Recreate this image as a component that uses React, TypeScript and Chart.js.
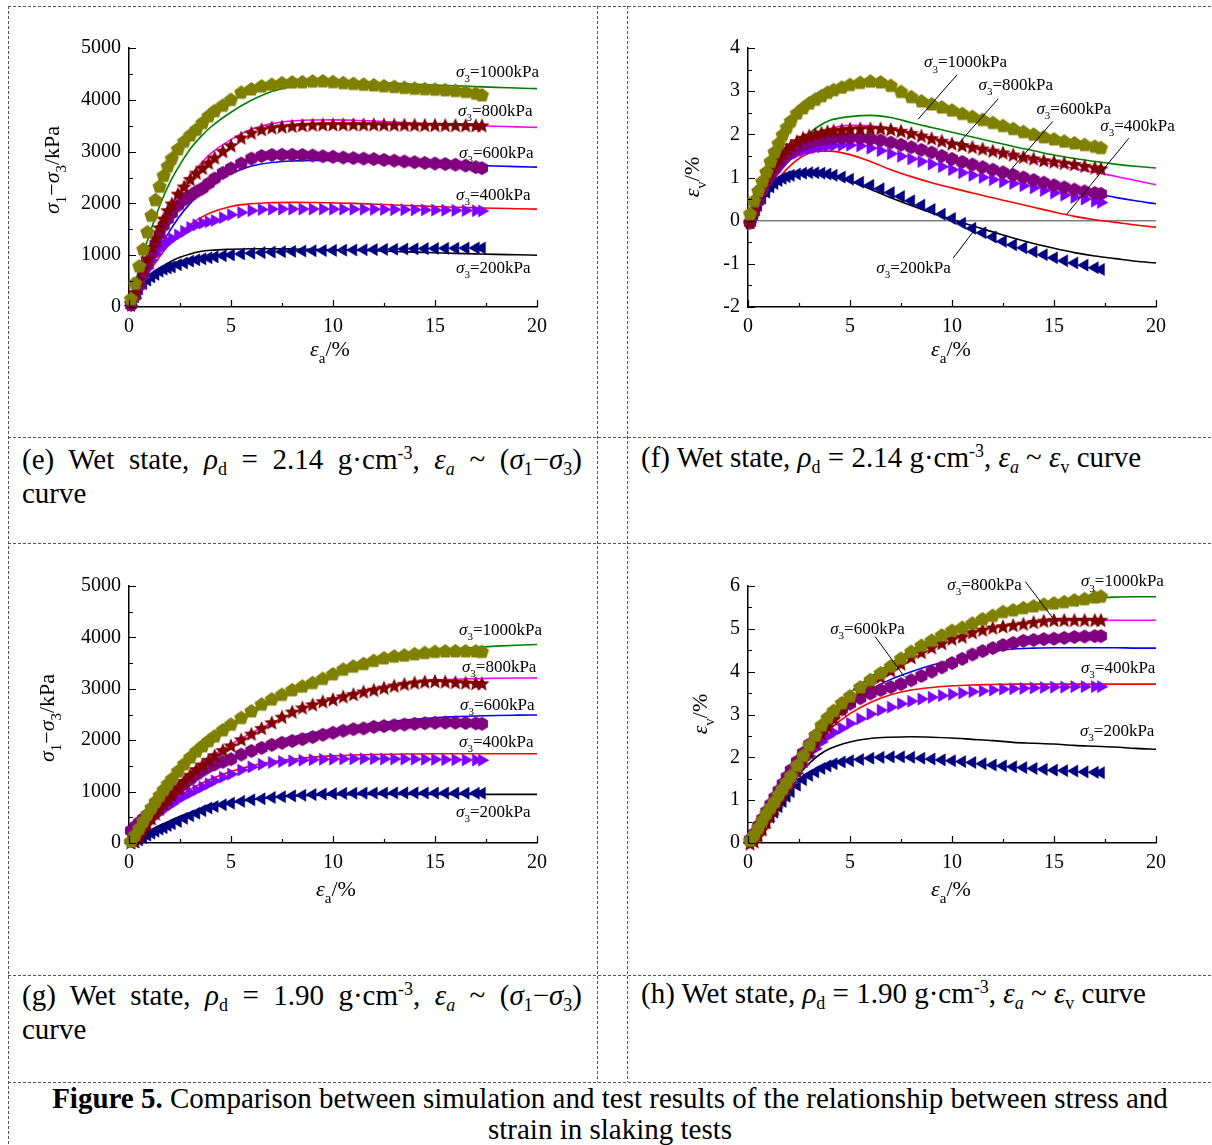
import React, { useEffect, useRef } from 'react';
import { Chart, registerables } from 'chart.js';

Chart.register(...registerables);

const SERIF = '"Liberation Serif", "Times New Roman", Times, serif';

// ---------- data ----------
const PRESSURES = [1000, 800, 600, 400, 200];

const TEST_X = [0.1, 0.3, 0.5, 0.7, 0.9, 1.1, 1.3, 1.5, 1.7, 1.9,
  2.1, 2.4, 2.7, 3.0, 3.3, 3.6, 3.9, 4.2, 4.6,
  5.0, 5.5, 6.0, 6.5, 7.0, 7.5, 8.0, 8.5, 9.0, 9.5,
  10, 10.5, 11, 11.5, 12, 12.5, 13, 13.5, 14, 14.5,
  15, 15.5, 16, 16.5, 17, 17.3];

const SIM_X = [0, 0.5, 1, 1.5, 2, 2.5, 3, 3.5, 4, 5, 6, 7, 8, 9, 10, 11, 12, 13, 14, 15, 16, 17, 18, 19, 20];

// (e) wet, 2.14, deviator stress
const E_TEST_1000 = [150, 450, 780, 1110, 1440, 1760, 2060, 2320, 2530, 2710, 2860, 3040, 3190, 3310, 3420, 3550, 3680, 3780, 3885, 3995, 4135, 4200, 4255, 4288, 4318, 4332, 4336, 4350, 4355, 4340, 4320, 4305, 4290, 4278, 4260, 4245, 4228, 4213, 4203, 4194, 4182, 4168, 4150, 4118, 4085];
const E_TEST_800 = [60, 270, 510, 730, 920, 1140, 1320, 1520, 1690, 1850, 1980, 2170, 2310, 2455, 2575, 2670, 2770, 2870, 2995, 3105, 3255, 3350, 3415, 3450, 3468, 3482, 3495, 3505, 3510, 3512, 3512, 3512, 3510, 3510, 3508, 3506, 3504, 3502, 3500, 3500, 3498, 3496, 3494, 3492, 3490];
const E_TEST_600 = [40, 220, 430, 630, 840, 1030, 1220, 1400, 1570, 1700, 1810, 1960, 2070, 2150, 2225, 2290, 2385, 2480, 2590, 2675, 2770, 2865, 2915, 2935, 2938, 2938, 2935, 2925, 2910, 2900, 2885, 2875, 2865, 2855, 2840, 2825, 2810, 2795, 2782, 2770, 2760, 2748, 2730, 2700, 2680];
const E_TEST_400 = [30, 170, 360, 570, 750, 900, 1020, 1120, 1200, 1260, 1320, 1390, 1460, 1535, 1585, 1620, 1645, 1670, 1725, 1780, 1825, 1860, 1882, 1888, 1890, 1890, 1890, 1890, 1890, 1889, 1888, 1887, 1886, 1885, 1883, 1881, 1879, 1876, 1873, 1870, 1868, 1865, 1862, 1858, 1855];
const E_TEST_200 = [30, 200, 350, 450, 520, 580, 630, 690, 730, 755, 775, 815, 850, 885, 910, 930, 950, 968, 990, 1005, 1025, 1038, 1050, 1060, 1068, 1075, 1080, 1085, 1090, 1093, 1097, 1100, 1104, 1108, 1112, 1116, 1120, 1123, 1126, 1129, 1132, 1135, 1137, 1139, 1140];
const E_SIM_1000 = [0, 750, 1400, 1950, 2400, 2750, 3050, 3280, 3470, 3760, 3990, 4160, 4255, 4300, 4330, 4340, 4335, 4320, 4300, 4285, 4270, 4255, 4240, 4228, 4215];
const E_SIM_800 = [0, 550, 1090, 1540, 1920, 2250, 2530, 2760, 2960, 3230, 3430, 3540, 3590, 3610, 3612, 3605, 3590, 3570, 3550, 3530, 3515, 3500, 3490, 3478, 3468];
const E_SIM_600 = [0, 420, 800, 1150, 1470, 1760, 2000, 2190, 2350, 2570, 2720, 2790, 2820, 2830, 2830, 2822, 2810, 2795, 2780, 2765, 2750, 2735, 2722, 2710, 2700];
const E_SIM_400 = [0, 350, 680, 970, 1220, 1420, 1590, 1720, 1820, 1940, 1995, 2015, 2020, 2018, 2010, 2000, 1985, 1970, 1955, 1940, 1925, 1915, 1905, 1898, 1890];
const E_SIM_200 = [0, 320, 560, 740, 870, 960, 1025, 1070, 1095, 1115, 1125, 1125, 1120, 1112, 1105, 1095, 1085, 1072, 1060, 1048, 1036, 1025, 1015, 1008, 1000];

// (f) wet, 2.14, volumetric strain
const F_TEST_1000 = [0.15, 0.45, 0.68, 0.9, 1.12, 1.36, 1.58, 1.78, 1.98, 2.15, 2.3, 2.48, 2.6, 2.71, 2.8, 2.88, 2.96, 3.02, 3.08, 3.14, 3.19, 3.22, 3.2, 3.12, 2.98, 2.86, 2.76, 2.69, 2.62, 2.55, 2.47, 2.4, 2.33, 2.26, 2.19, 2.12, 2.05, 1.99, 1.93, 1.88, 1.83, 1.79, 1.75, 1.71, 1.68];
const F_TEST_800 = [-0.05, 0.2, 0.5, 0.75, 0.95, 1.12, 1.28, 1.42, 1.54, 1.64, 1.72, 1.82, 1.9, 1.95, 1.99, 2.02, 2.05, 2.07, 2.09, 2.11, 2.12, 2.12, 2.12, 2.1, 2.06, 2.01, 1.95, 1.89, 1.83, 1.77, 1.73, 1.69, 1.65, 1.6, 1.56, 1.51, 1.46, 1.42, 1.38, 1.35, 1.32, 1.29, 1.25, 1.21, 1.19];
const F_TEST_600 = [-0.05, 0.2, 0.45, 0.7, 0.9, 1.06, 1.2, 1.33, 1.44, 1.53, 1.6, 1.69, 1.76, 1.81, 1.85, 1.88, 1.9, 1.91, 1.92, 1.92, 1.91, 1.89, 1.86, 1.81, 1.76, 1.7, 1.64, 1.58, 1.5, 1.43, 1.36, 1.3, 1.24, 1.18, 1.12, 1.06, 1.0, 0.94, 0.88, 0.82, 0.77, 0.72, 0.68, 0.64, 0.62];
const F_TEST_400 = [-0.05, 0.25, 0.5, 0.72, 0.92, 1.08, 1.2, 1.3, 1.38, 1.45, 1.5, 1.57, 1.62, 1.66, 1.69, 1.71, 1.73, 1.74, 1.75, 1.75, 1.73, 1.68, 1.62, 1.55, 1.49, 1.43, 1.37, 1.31, 1.25, 1.18, 1.11, 1.05, 1.0, 0.95, 0.9, 0.86, 0.81, 0.76, 0.7, 0.64, 0.59, 0.54, 0.5, 0.45, 0.42];
const F_TEST_200 = [-0.05, 0.15, 0.35, 0.52, 0.66, 0.78, 0.86, 0.93, 0.98, 1.02, 1.05, 1.08, 1.1, 1.11, 1.11, 1.1, 1.08, 1.05, 1.01, 0.96, 0.89, 0.82, 0.74, 0.65, 0.56, 0.46, 0.36, 0.26, 0.15, 0.05, -0.06, -0.18, -0.28, -0.38, -0.48, -0.56, -0.63, -0.72, -0.79, -0.86, -0.93, -0.98, -1.03, -1.09, -1.13];
const F_SIM_1000 = [0, 0.45, 0.85, 1.2, 1.5, 1.76, 2.02, 2.2, 2.32, 2.41, 2.44, 2.39, 2.27, 2.16, 2.05, 1.94, 1.83, 1.72, 1.62, 1.52, 1.44, 1.37, 1.31, 1.26, 1.22];
const F_SIM_800 = [0, 0.4, 0.78, 1.12, 1.42, 1.68, 1.88, 2.03, 2.13, 2.21, 2.2, 2.12, 2.02, 1.92, 1.8, 1.68, 1.58, 1.48, 1.39, 1.3, 1.21, 1.12, 1.03, 0.93, 0.83];
const F_SIM_600 = [0, 0.4, 0.78, 1.1, 1.38, 1.6, 1.77, 1.88, 1.95, 1.99, 1.96, 1.86, 1.72, 1.55, 1.38, 1.25, 1.13, 1.02, 0.92, 0.82, 0.72, 0.63, 0.54, 0.46, 0.39];
const F_SIM_400 = [0, 0.35, 0.68, 0.98, 1.24, 1.44, 1.56, 1.61, 1.61, 1.53, 1.37, 1.18, 1.02, 0.88, 0.76, 0.64, 0.53, 0.42, 0.31, 0.2, 0.1, 0.02, -0.04, -0.1, -0.15];
const F_SIM_200 = [0, 0.33, 0.63, 0.85, 1.0, 1.08, 1.11, 1.1, 1.06, 0.92, 0.73, 0.53, 0.35, 0.18, 0.03, -0.12, -0.26, -0.4, -0.53, -0.64, -0.74, -0.82, -0.88, -0.94, -0.98];

// (g) wet, 1.90, deviator stress
const G_TEST_1000 = [30, 150, 280, 420, 550, 680, 800, 920, 1030, 1140, 1240, 1390, 1530, 1660, 1780, 1880, 1980, 2070, 2190, 2300, 2430, 2560, 2690, 2790, 2880, 2970, 3040, 3110, 3190, 3280, 3370, 3430, 3480, 3540, 3590, 3625, 3645, 3670, 3695, 3715, 3725, 3728, 3728, 3725, 3715];
const G_TEST_800 = [0, 20, 110, 230, 350, 460, 560, 650, 740, 830, 920, 1060, 1190, 1310, 1420, 1510, 1600, 1690, 1790, 1880, 2000, 2110, 2220, 2330, 2440, 2540, 2620, 2680, 2740, 2780, 2835, 2880, 2930, 2965, 3005, 3045, 3080, 3105, 3125, 3135, 3125, 3115, 3105, 3095, 3090];
const G_TEST_600 = [240, 320, 400, 470, 540, 600, 670, 730, 790, 860, 930, 1040, 1140, 1240, 1330, 1410, 1480, 1530, 1580, 1630, 1720, 1790, 1850, 1910, 1950, 1985, 2020, 2060, 2105, 2145, 2185, 2215, 2230, 2260, 2275, 2290, 2305, 2320, 2330, 2340, 2342, 2340, 2335, 2328, 2320];
const G_TEST_400 = [40, 130, 230, 320, 400, 470, 540, 600, 660, 710, 760, 840, 910, 970, 1030, 1090, 1150, 1210, 1280, 1340, 1420, 1480, 1530, 1565, 1585, 1598, 1610, 1620, 1628, 1632, 1635, 1637, 1638, 1638, 1636, 1634, 1632, 1630, 1628, 1625, 1622, 1619, 1615, 1612, 1610];
const G_TEST_200 = [0, 20, 60, 110, 150, 190, 230, 270, 300, 340, 375, 420, 480, 530, 580, 630, 680, 710, 745, 775, 810, 840, 860, 885, 900, 918, 930, 942, 952, 960, 965, 968, 970, 972, 973, 974, 974, 974, 973, 972, 971, 970, 969, 968, 967];
const G_SIM_1000 = [0, 350, 650, 920, 1170, 1400, 1620, 1820, 2000, 2310, 2570, 2790, 2980, 3140, 3280, 3410, 3520, 3610, 3680, 3735, 3775, 3805, 3830, 3848, 3862];
const G_SIM_800 = [150, 400, 620, 830, 1020, 1200, 1370, 1530, 1670, 1920, 2140, 2340, 2520, 2680, 2810, 2920, 3010, 3080, 3130, 3165, 3185, 3198, 3205, 3210, 3212];
const G_SIM_600 = [250, 450, 640, 810, 970, 1110, 1240, 1360, 1470, 1660, 1820, 1960, 2060, 2140, 2210, 2270, 2325, 2370, 2405, 2435, 2458, 2472, 2482, 2487, 2490];
const G_SIM_400 = [0, 230, 440, 620, 780, 920, 1040, 1150, 1240, 1390, 1500, 1580, 1630, 1670, 1695, 1712, 1722, 1728, 1732, 1735, 1736, 1737, 1737, 1737, 1737];
const G_SIM_200 = [0, 120, 230, 340, 430, 520, 590, 650, 700, 780, 840, 880, 910, 925, 935, 940, 943, 945, 946, 946, 946, 946, 946, 946, 946];

// (h) wet, 1.90, volumetric strain
const H_TEST_1000 = [0.05, 0.18, 0.35, 0.52, 0.68, 0.82, 0.96, 1.12, 1.26, 1.41, 1.56, 1.8, 2.03, 2.27, 2.5, 2.74, 2.92, 3.08, 3.26, 3.42, 3.63, 3.8, 3.96, 4.12, 4.3, 4.46, 4.6, 4.72, 4.84, 4.95, 5.02, 5.12, 5.22, 5.3, 5.39, 5.43, 5.48, 5.52, 5.56, 5.59, 5.62, 5.66, 5.69, 5.73, 5.75];
const H_TEST_800 = [-0.03, 0.02, 0.15, 0.3, 0.47, 0.63, 0.79, 0.95, 1.11, 1.27, 1.43, 1.66, 1.89, 2.1, 2.32, 2.53, 2.7, 2.88, 3.1, 3.33, 3.55, 3.72, 3.86, 4.01, 4.17, 4.32, 4.44, 4.55, 4.65, 4.75, 4.8, 4.9, 4.96, 5.01, 5.04, 5.07, 5.1, 5.14, 5.17, 5.19, 5.19, 5.19, 5.19, 5.19, 5.19];
const H_TEST_600 = [0.08, 0.22, 0.4, 0.56, 0.73, 0.9, 1.06, 1.22, 1.38, 1.54, 1.7, 1.9, 2.1, 2.3, 2.5, 2.7, 2.86, 2.98, 3.12, 3.25, 3.38, 3.49, 3.57, 3.64, 3.71, 3.8, 3.9, 4.0, 4.1, 4.2, 4.3, 4.4, 4.48, 4.55, 4.62, 4.67, 4.72, 4.74, 4.76, 4.77, 4.79, 4.81, 4.82, 4.83, 4.83];
const H_TEST_400 = [0.03, 0.15, 0.3, 0.45, 0.6, 0.72, 0.86, 1.0, 1.14, 1.28, 1.42, 1.63, 1.83, 2.03, 2.2, 2.36, 2.49, 2.58, 2.68, 2.79, 2.9, 3.01, 3.1, 3.17, 3.25, 3.31, 3.36, 3.4, 3.44, 3.47, 3.5, 3.53, 3.55, 3.57, 3.59, 3.6, 3.61, 3.62, 3.63, 3.64, 3.64, 3.65, 3.65, 3.65, 3.65];
const H_TEST_200 = [0.0, 0.08, 0.2, 0.34, 0.48, 0.6, 0.72, 0.85, 0.97, 1.09, 1.2, 1.35, 1.48, 1.58, 1.66, 1.74, 1.8, 1.85, 1.89, 1.92, 1.95, 1.98, 2.0, 2.01, 2.01, 2.0, 1.98, 1.96, 1.94, 1.92, 1.9, 1.88, 1.85, 1.82, 1.8, 1.78, 1.76, 1.74, 1.72, 1.7, 1.69, 1.68, 1.66, 1.65, 1.64];
const H_SIM_1000 = [0, 0.35, 0.75, 1.15, 1.55, 1.95, 2.33, 2.68, 3.0, 3.5, 3.88, 4.2, 4.5, 4.75, 4.96, 5.14, 5.3, 5.43, 5.54, 5.62, 5.68, 5.72, 5.74, 5.75, 5.75];
const H_SIM_800 = [0, 0.2, 0.58, 0.98, 1.38, 1.76, 2.12, 2.45, 2.76, 3.3, 3.75, 4.1, 4.38, 4.6, 4.78, 4.92, 5.03, 5.1, 5.15, 5.18, 5.2, 5.2, 5.2, 5.2, 5.2];
const H_SIM_600 = [0, 0.35, 0.75, 1.15, 1.55, 1.93, 2.3, 2.62, 2.88, 3.25, 3.58, 3.82, 4.0, 4.15, 4.26, 4.37, 4.47, 4.53, 4.55, 4.56, 4.56, 4.56, 4.56, 4.55, 4.55];
const H_SIM_400 = [0, 0.33, 0.7, 1.08, 1.45, 1.8, 2.12, 2.4, 2.65, 3.02, 3.28, 3.46, 3.57, 3.63, 3.67, 3.69, 3.7, 3.71, 3.71, 3.71, 3.71, 3.71, 3.71, 3.71, 3.71];
const H_SIM_200 = [0, 0.3, 0.62, 0.95, 1.28, 1.6, 1.86, 2.06, 2.2, 2.36, 2.44, 2.47, 2.48, 2.47, 2.45, 2.42, 2.39, 2.35, 2.33, 2.31, 2.28, 2.26, 2.24, 2.21, 2.19];

// ---------- styles ----------
const TEST_COLORS = ['#808000', '#800000', '#800080', '#8000FF', '#000080'];
const SIM_COLORS = ['#008000', '#FF00FF', '#0000FF', '#FF0000', '#000000'];

type Part = { t: string; it?: boolean; sub?: boolean; sup?: boolean };

const sigmaLabel = (p: number): Part[] => [{ t: 'σ', it: true }, { t: '3', sub: true }, { t: `=${p}kPa` }];
const X_TITLE: Part[] = [{ t: 'ε', it: true }, { t: 'a', sub: true }, { t: '/%' }];
const Y_TITLE_Q: Part[] = [{ t: 'σ', it: true }, { t: '1', sub: true }, { t: '−' }, { t: 'σ', it: true }, { t: '3', sub: true }, { t: '/kPa' }];
const Y_TITLE_V: Part[] = [{ t: 'ε', it: true }, { t: 'v', sub: true }, { t: '/%' }];

interface Spec {
  key: string;
  left: number; top: number; width: number; height: number;
  area: { left: number; top: number; right: number; bottom: number };
  yMin: number; yMax: number; yStep: number; yMinor: number;
  tests: number[][]; sims: number[][];
  zero?: boolean;
  yTitle: Part[]; yTitleAt: [number, number]; xTitleAt: [number, number];
  labelAt: [number, number][];
  leaders: [number, number, number, number][];
}

const SPECS: Spec[] = [
  {
    key: 'e', left: 10, top: 8, width: 585, height: 428,
    area: { left: 119, top: 40, right: 527, bottom: 299 },
    yMin: 0, yMax: 5000, yStep: 1000, yMinor: 500,
    tests: [E_TEST_1000, E_TEST_800, E_TEST_600, E_TEST_400, E_TEST_200],
    sims: [E_SIM_1000, E_SIM_800, E_SIM_600, E_SIM_400, E_SIM_200],
    yTitle: Y_TITLE_Q, yTitleAt: [42, 162], xTitleAt: [320, 341],
    labelAt: [[16.03, 4550], [16.13, 3800], [16.18, 2990], [16.03, 2180], [16.03, 770]],
    leaders: [],
  },
  {
    key: 'f', left: 629, top: 8, width: 580, height: 428,
    area: { left: 119, top: 40, right: 527, bottom: 299 },
    yMin: -2, yMax: 4, yStep: 1, yMinor: 0.5,
    tests: [F_TEST_1000, F_TEST_800, F_TEST_600, F_TEST_400, F_TEST_200],
    sims: [F_SIM_1000, F_SIM_800, F_SIM_600, F_SIM_400, F_SIM_200],
    zero: true,
    yTitle: Y_TITLE_V, yTitleAt: [63, 169], xTitleAt: [322, 341],
    labelAt: [[8.63, 3.68], [11.3, 3.15], [14.14, 2.6], [17.27, 2.2], [6.29, -1.08]],
    leaders: [[10.25, 3.38, 8.34, 2.35], [12.26, 2.82, 10.31, 1.78], [14.94, 2.3, 12.74, 1.1], [18.67, 1.91, 15.61, 0.14], [10.06, -0.865, 11.11, -0.21]],
  },
  {
    key: 'g', left: 10, top: 545, width: 585, height: 428,
    area: { left: 119, top: 41, right: 527, bottom: 298 },
    yMin: 0, yMax: 5000, yStep: 1000, yMinor: 500,
    tests: [G_TEST_1000, G_TEST_800, G_TEST_600, G_TEST_400, G_TEST_200],
    sims: [G_SIM_1000, G_SIM_800, G_SIM_600, G_SIM_400, G_SIM_200],
    yTitle: Y_TITLE_Q, yTitleAt: [37, 173], xTitleAt: [326, 344],
    labelAt: [[16.18, 4160], [16.32, 3440], [16.23, 2700], [16.18, 1980], [16.03, 620]],
    leaders: [],
  },
  {
    key: 'h', left: 629, top: 545, width: 580, height: 428,
    area: { left: 119, top: 41, right: 527, bottom: 298 },
    yMin: 0, yMax: 6, yStep: 1, yMinor: 0.5,
    tests: [H_TEST_1000, H_TEST_800, H_TEST_600, H_TEST_400, H_TEST_200],
    sims: [H_SIM_1000, H_SIM_800, H_SIM_600, H_SIM_400, H_SIM_200],
    yTitle: Y_TITLE_V, yTitleAt: [71, 169], xTitleAt: [322, 344],
    labelAt: [[16.32, 6.12], [9.77, 6.04], [4.03, 5.01], [16.32, 4.1], [16.27, 2.62]],
    leaders: [[13.6, 6.1, 14.99, 5.22], [6.23, 4.82, 7.67, 3.88]],
  },
];

// ---------- drawing helpers ----------
function drawRich(ctx: CanvasRenderingContext2D, parts: Part[], size: number, x: number, y: number, center: boolean, rotate: boolean) {
  const small = Math.round(size * 0.66);
  const font = (p: Part) => `${p.it ? 'italic ' : ''}${p.sub || p.sup ? small : size}px ${SERIF}`;
  const widths = parts.map((p) => { ctx.font = font(p); return ctx.measureText(p.t).width; });
  const total = widths.reduce((a, b) => a + b, 0);
  ctx.save();
  ctx.translate(x, y);
  if (rotate) ctx.rotate(-Math.PI / 2);
  ctx.fillStyle = '#000';
  ctx.textAlign = 'left';
  ctx.textBaseline = 'alphabetic';
  let cx = center ? -total / 2 : 0;
  const base = size * 0.33;
  parts.forEach((p, i) => {
    ctx.font = font(p);
    const dy = p.sub ? size * 0.3 : p.sup ? -size * 0.42 : 0;
    ctx.fillText(p.t, cx, base + dy);
    cx += widths[i];
  });
  ctx.restore();
}

function shapeMarker(kind: 'pentagon' | 'star' | 'hexagon', r: number, color: string): HTMLCanvasElement {
  const size = Math.ceil(r * 2 + 2);
  const c = document.createElement('canvas');
  c.width = size; c.height = size;
  const g = c.getContext('2d')!;
  g.translate(size / 2, size / 2);
  const n = kind === 'pentagon' ? 5 : kind === 'hexagon' ? 6 : 10;
  const rot = -Math.PI / 2;
  g.beginPath();
  for (let i = 0; i < n; i++) {
    const rr = kind === 'star' && i % 2 === 1 ? r * 0.45 : r;
    const a = rot + (i * 2 * Math.PI) / n;
    const px = rr * Math.cos(a);
    const py = rr * Math.sin(a);
    if (i === 0) g.moveTo(px, py); else g.lineTo(px, py);
  }
  g.closePath();
  g.fillStyle = color;
  g.fill();
  return c;
}

function makePlugin(s: Spec) {
  return {
    id: 'panelDecor_' + s.key,
    afterDraw(chart: any) {
      const ctx: CanvasRenderingContext2D = chart.ctx;
      const area = chart.chartArea;
      const xs = chart.scales.x;
      const ys = chart.scales.y;
      ctx.save();
      ctx.strokeStyle = '#000';
      ctx.lineWidth = 1.2;
      ctx.beginPath();
      for (let i = 0; i <= 8; i++) {
        const px = Math.round(xs.getPixelForValue(i * 2.5)) + 0.5;
        const len = i % 2 === 0 ? 7 : 4;
        ctx.moveTo(px, area.bottom);
        ctx.lineTo(px, area.bottom - len);
      }
      const nY = Math.round((s.yMax - s.yMin) / s.yMinor);
      for (let i = 0; i <= nY; i++) {
        const py = Math.round(ys.getPixelForValue(s.yMin + i * s.yMinor)) + 0.5;
        const len = i % 2 === 0 ? 7 : 4;
        ctx.moveTo(area.left, py);
        ctx.lineTo(area.left + len, py);
      }
      ctx.stroke();
      ctx.lineWidth = 1;
      ctx.beginPath();
      s.leaders.forEach(([x1, y1, x2, y2]) => {
        ctx.moveTo(xs.getPixelForValue(x1), ys.getPixelForValue(y1));
        ctx.lineTo(xs.getPixelForValue(x2), ys.getPixelForValue(y2));
      });
      ctx.stroke();
      PRESSURES.forEach((p, i) => {
        const [lx, ly] = s.labelAt[i];
        drawRich(ctx, sigmaLabel(p), 17, xs.getPixelForValue(lx), ys.getPixelForValue(ly), false, false);
      });
      drawRich(ctx, s.yTitle, 22, s.yTitleAt[0], s.yTitleAt[1], true, true);
      drawRich(ctx, X_TITLE, 22, s.xTitleAt[0], s.xTitleAt[1], true, false);
      ctx.restore();
    },
  };
}

function buildChart(canvas: HTMLCanvasElement, s: Spec) {
  const imgs = [
    shapeMarker('pentagon', 7.5, TEST_COLORS[0]),
    shapeMarker('star', 8, TEST_COLORS[1]),
    shapeMarker('hexagon', 7, TEST_COLORS[2]),
  ];
  const datasets: any[] = [];
  s.tests.forEach((arr, i) => {
    const isImg = i < 3;
    datasets.push({
      type: 'scatter',
      data: TEST_X.map((x, j) => ({ x, y: arr[j] })),
      pointStyle: isImg ? imgs[i] : 'triangle',
      rotation: i === 3 ? 90 : i === 4 ? -90 : 0,
      pointRadius: 7,
      backgroundColor: TEST_COLORS[i],
      borderColor: TEST_COLORS[i],
      borderWidth: 0.5,
      showLine: false,
      order: i,
      clip: false,
    });
  });
  s.sims.forEach((arr, i) => {
    datasets.push({
      type: 'scatter',
      data: SIM_X.map((x, j) => ({ x, y: arr[j] })),
      showLine: true,
      pointRadius: 0,
      borderColor: SIM_COLORS[i],
      backgroundColor: SIM_COLORS[i],
      borderWidth: 1.6,
      cubicInterpolationMode: 'monotone',
      fill: false,
      order: 10 + i,
    });
  });
  if (s.zero) {
    datasets.push({
      type: 'scatter',
      data: [{ x: 0, y: 0 }, { x: 20, y: 0 }],
      showLine: true,
      pointRadius: 0,
      borderColor: '#808080',
      borderWidth: 1.5,
      order: 20,
    });
  }
  const tickFont = { family: SERIF, size: 20 };
  return new Chart(canvas, {
    type: 'scatter',
    data: { datasets },
    options: {
      responsive: false,
      animation: false,
      events: [],
      layout: { padding: { left: 0, top: s.area.top, right: s.width - s.area.right, bottom: 0 } },
      plugins: { legend: { display: false }, tooltip: { enabled: false }, title: { display: false } },
      scales: {
        x: {
          type: 'linear', min: 0, max: 20,
          afterFit: (sc: any) => { sc.height = s.height - s.area.bottom; },
          ticks: { stepSize: 5, padding: 8, font: tickFont, color: '#000', autoSkip: false, maxRotation: 0, callback: (v: any) => String(v) },
          grid: { display: false, drawTicks: false },
          border: { display: true, color: '#000', width: 1.5 },
        },
        y: {
          type: 'linear', min: s.yMin, max: s.yMax,
          afterFit: (sc: any) => { sc.width = s.area.left; },
          ticks: { stepSize: s.yStep, padding: 8, font: tickFont, color: '#000', autoSkip: false, callback: (v: any) => String(v) },
          grid: { display: false, drawTicks: false },
          border: { display: true, color: '#000', width: 1.5 },
        },
      },
    } as any,
    plugins: [makePlugin(s)],
  } as any);
}

function Panel({ spec }: { spec: Spec }) {
  const ref = useRef<HTMLCanvasElement>(null);
  useEffect(() => {
    const chart = buildChart(ref.current!, spec);
    return () => chart.destroy();
  }, [spec]);
  return (
    <canvas
      ref={ref}
      width={spec.width}
      height={spec.height}
      style={{ position: 'absolute', left: spec.left, top: spec.top, width: spec.width, height: spec.height }}
    />
  );
}

// ---------- captions ----------
const cap: React.CSSProperties = {
  position: 'absolute', fontFamily: SERIF, fontSize: 29, lineHeight: '34px', color: '#000', whiteSpace: 'nowrap',
};
const Sub = ({ c, it }: { c: string; it?: boolean }) => (
  <span style={{ fontSize: '0.62em', position: 'relative', top: '0.3em', lineHeight: 0, fontStyle: it ? 'italic' : 'normal' }}>{c}</span>
);
const Sup = ({ c }: { c: string }) => (
  <span style={{ fontSize: '0.62em', position: 'relative', top: '-0.55em', lineHeight: 0 }}>{c}</span>
);

function CaptionQ({ letter, rho, left, top }: { letter: string; rho: string; left: number; top: number }) {
  return (
    <>
      <div style={{ ...cap, left, top, width: 560, whiteSpace: 'normal', textAlign: 'justify', textAlignLast: 'justify' as any }}>
        ({letter}) Wet state, <i>ρ</i><Sub c="d" /> = {rho} g·cm<Sup c="-3" />, <i>ε</i><Sub c="a" it /> ~ (<i>σ</i><Sub c="1" />−<i>σ</i><Sub c="3" />)
      </div>
      <div style={{ ...cap, left, top: top + 34 }}>curve</div>
    </>
  );
}

function CaptionV({ letter, rho, left, top }: { letter: string; rho: string; left: number; top: number }) {
  return (
    <div style={{ ...cap, left, top }}>
      ({letter}) Wet state, <i>ρ</i><Sub c="d" /> = {rho} g·cm<Sup c="-3" />, <i>ε</i><Sub c="a" it /> ~ <i>ε</i><Sub c="v" /> curve
    </div>
  );
}

function Borders() {
  const h = [6.5, 437.5, 543.5, 975.5, 1082.5];
  return (
    <svg width={1212} height={1145} style={{ position: 'absolute', left: 0, top: 0 }}>
      <g stroke="#555" strokeWidth={1} strokeDasharray="3 2" fill="none">
        {h.map((y) => <line key={y} x1={8} y1={y} x2={1212} y2={y} />)}
        <line x1={8.5} y1={6} x2={8.5} y2={1145} />
        <line x1={597.5} y1={6} x2={597.5} y2={1082} />
        <line x1={627.5} y1={6} x2={627.5} y2={1082} />
      </g>
    </svg>
  );
}

export default function App() {
  return (
    <div style={{ position: 'absolute', left: 0, top: 0, width: 1212, height: 1145, overflow: 'hidden', background: '#fff' }}>
      <Borders />
      {SPECS.map((s) => <Panel key={s.key} spec={s} />)}
      <CaptionQ letter="e" rho="2.14" left={22} top={442.2} />
      <CaptionV letter="f" rho="2.14" left={641} top={440.2} />
      <CaptionQ letter="g" rho="1.90" left={22} top={978.2} />
      <CaptionV letter="h" rho="1.90" left={641} top={976.2} />
      <div style={{ ...cap, left: 8, width: 1204, top: 1081.2, textAlign: 'center' }}>
        <b>Figure 5.</b> Comparison between simulation and test results of the relationship between stress and
      </div>
      <div style={{ ...cap, left: 8, width: 1204, top: 1112.2, textAlign: 'center' }}>strain in slaking tests</div>
    </div>
  );
}
